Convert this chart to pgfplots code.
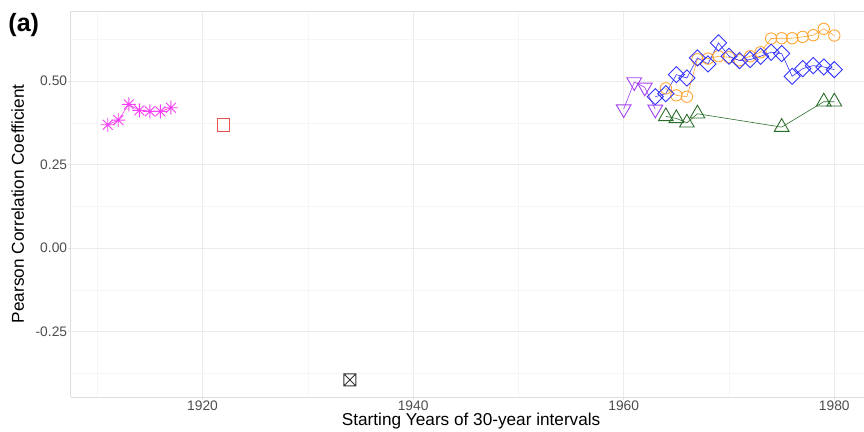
\documentclass[border=0pt]{standalone}
\usepackage{fontspec}
\setmainfont{Liberation Sans}
\usepackage{pgfplots}
\pgfplotsset{compat=1.18}

\definecolor{cmag}{HTML}{F740F7}
\definecolor{cred}{HTML}{E8504F}
\definecolor{cpur}{HTML}{A040F0}
\definecolor{cblue}{HTML}{3333FF}
\definecolor{corg}{HTML}{FFA533}
\definecolor{cgrn}{HTML}{2B6E2B}
\definecolor{cblk}{HTML}{333333}
\definecolor{gridmaj}{HTML}{EBEBEB}
\definecolor{gridmin}{HTML}{F5F5F5}
\definecolor{bord}{HTML}{DEDEDE}
\definecolor{tickc}{HTML}{4D4D4D}

\pgfdeclareplotmark{ast8}{%
  \pgfpathmoveto{\pgfqpoint{-\pgfplotmarksize}{0pt}}\pgfpathlineto{\pgfqpoint{\pgfplotmarksize}{0pt}}%
  \pgfpathmoveto{\pgfqpoint{0pt}{-\pgfplotmarksize}}\pgfpathlineto{\pgfqpoint{0pt}{\pgfplotmarksize}}%
  \pgfpathmoveto{\pgfqpoint{-0.7071\pgfplotmarksize}{-0.7071\pgfplotmarksize}}\pgfpathlineto{\pgfqpoint{0.7071\pgfplotmarksize}{0.7071\pgfplotmarksize}}%
  \pgfpathmoveto{\pgfqpoint{-0.7071\pgfplotmarksize}{0.7071\pgfplotmarksize}}\pgfpathlineto{\pgfqpoint{0.7071\pgfplotmarksize}{-0.7071\pgfplotmarksize}}%
  \pgfusepathqstroke}
\pgfdeclareplotmark{boxx}{%
  \pgfpathrectangle{\pgfqpoint{-\pgfplotmarksize}{-\pgfplotmarksize}}{\pgfqpoint{2\pgfplotmarksize}{2\pgfplotmarksize}}%
  \pgfpathmoveto{\pgfqpoint{-\pgfplotmarksize}{-\pgfplotmarksize}}\pgfpathlineto{\pgfqpoint{\pgfplotmarksize}{\pgfplotmarksize}}%
  \pgfpathmoveto{\pgfqpoint{-\pgfplotmarksize}{\pgfplotmarksize}}\pgfpathlineto{\pgfqpoint{\pgfplotmarksize}{-\pgfplotmarksize}}%
  \pgfusepathqstroke}

\pgfplotstableread{
x y
1911 0.369
1912 0.383
1913 0.430
1914 0.412
1915 0.409
1916 0.409
1917 0.420
}\stars
\pgfplotstableread{
x y
1922 0.368
}\redsq
\pgfplotstableread{
x y
1934 -0.394
}\boxcross
\pgfplotstableread{
x y
1960 0.416
1961 0.497
1962 0.481
1963 0.415
}\purple
\pgfplotstableread{
x y
1964 0.394
1965 0.388
1966 0.375
1967 0.402
1975 0.362
1979 0.438
1980 0.438
}\green
\pgfplotstableread{
x y
1964 0.478
1965 0.457
1966 0.453
1967 0.565
1968 0.567
1969 0.574
1970 0.571
1971 0.562
1972 0.574
1973 0.586
1974 0.627
1975 0.628
1976 0.628
1977 0.632
1978 0.637
1979 0.656
1980 0.636
}\orange
\pgfplotstableread{
x y
1963 0.453
1964 0.462
1965 0.519
1966 0.509
1967 0.569
1968 0.551
1969 0.614
1970 0.574
1971 0.561
1972 0.564
1973 0.574
1974 0.586
1975 0.582
1976 0.514
1977 0.537
1978 0.546
1979 0.542
1980 0.534
}\blue

\begin{document}
\begin{tikzpicture}
\begin{axis}[name=ax,
  scale only axis, width=793pt, height=385.6pt,
  xmin=1907.51, xmax=1982.82, ymin=-0.4453, ymax=0.7082,
  xtick={1920,1940,1960,1980}, xticklabels={1920,1940,1960,1980},
  minor xtick={1910,1930,1950,1970},
  ytick={-0.25,0,0.25,0.5}, yticklabels={-0.25,0.00,0.25,0.50},
  minor ytick={-0.375,-0.125,0.125,0.375,0.625},
  grid=both,
  major grid style={gridmaj, line width=0.8pt},
  minor grid style={gridmin, line width=0.5pt},
  axis x line*=box, axis y line*=left,
  axis line style={bord, line width=1pt, -},
  xtick pos=bottom, ytick pos=left,
  tick align=outside, major tick length=2.7pt, minor tick length=0pt,
  major tick style={bord, line width=0.8pt},
  ticklabel style={font=\fontsize{13.8}{16}\selectfont, text=tickc},
  xticklabel style={inner sep=1pt},
  yticklabel style={inner sep=1pt},
  xlabel={Starting Years of 30-year intervals},
  ylabel={Pearson Correlation Coefficient},
  xlabel style={at={(axis description cs:0.5046,-0.0734)}, anchor=base, font=\fontsize{17.2}{20}\selectfont, inner sep=0pt},
  ylabel style={at={(axis description cs:-0.0593,0.501)}, anchor=base, font=\fontsize{17.2}{20}\selectfont, inner sep=0pt},
  clip=false,
]
\addplot[cmag, line width=0.6pt, mark=ast8, mark size=7pt, mark options={line width=0.9pt}] table[x=x,y=y] {\stars};
\addplot[cred, only marks, mark=square, mark size=6.3pt, mark options={line width=1pt}] table[x=x,y=y] {\redsq};
\addplot[cblk, only marks, mark=boxx, mark size=6pt, mark options={line width=0.9pt}] table[x=x,y=y] {\boxcross};
\addplot[cpur, line width=0.6pt, mark=triangle, mark size=8.5pt, mark options={line width=0.9pt, rotate=180}] table[x=x,y=y] {\purple};
\addplot[cgrn, line width=0.6pt, mark=triangle, mark size=8.5pt, mark options={line width=0.9pt}] table[x=x,y=y] {\green};
\addplot[corg, line width=0.6pt, mark=o, mark size=5.7pt, mark options={line width=0.9pt}] table[x=x,y=y] {\orange};
\addplot[cblue, line width=0.6pt, mark=square, mark size=5.7pt, mark options={line width=0.9pt, rotate=45}] table[x=x,y=y] {\blue};
\end{axis}
\node[anchor=base west, inner sep=0pt, font=\fontsize{25}{28}\selectfont\bfseries] at ([shift={(-62.7pt,365.8pt)}]ax.south west) {(a)};
\pgfresetboundingbox
\path[use as bounding box] ([shift={(-71pt,-34pt)}]ax.south west) rectangle ++(864pt,431pt);
\end{tikzpicture}
\end{document}
